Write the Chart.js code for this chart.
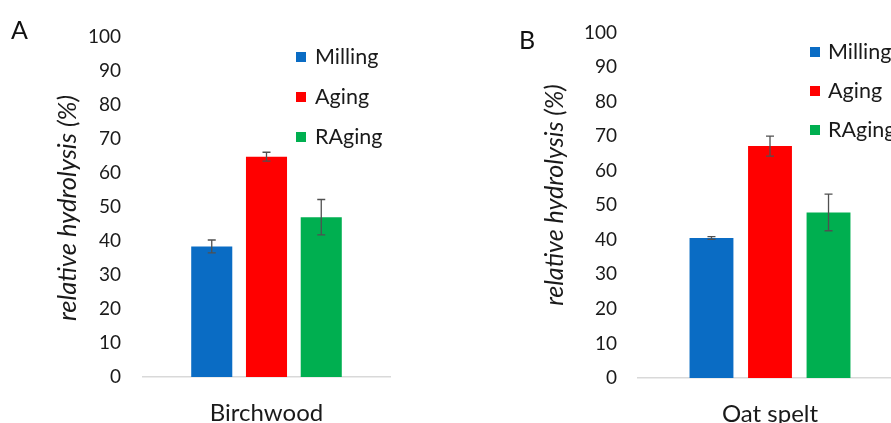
<!DOCTYPE html>
<html><head><meta charset="utf-8">
<script src="https://cdn.jsdelivr.net/npm/chart.js@4/dist/chart.umd.min.js"></script>
<style>
html,body{margin:0;padding:0;background:#fff;overflow:hidden;}
#wrap{position:relative;width:891px;height:423px;overflow:hidden;background:#fff;}
#cA{position:absolute;left:0;top:0;}
#cB{position:absolute;left:445px;top:0;}
.panel{position:absolute;font-family:Lato,sans-serif;font-size:25px;color:#111;line-height:1;}
</style></head><body>
<div id="wrap">
<canvas id="cA" width="445" height="423"></canvas>
<canvas id="cB" width="470" height="423"></canvas>
<div class="panel" style="left:11px;top:17px;">A</div>
<div class="panel" style="left:519px;top:27px;">B</div>
</div>
<script>
// ---- data ----
const seriesNames = ['Milling', 'Aging', 'RAging'];
const categoriesA = ['Birchwood'];
const categoriesB = ['Oat spelt'];
const millingA = [38.4];
const agingA = [64.8];
const ragingA = [47.0];
const millingErrA = [1.9];
const agingErrA = [1.3];
const ragingErrA = [5.2];
const millingB = [40.5];
const agingB = [67.1];
const ragingB = [47.9];
const millingErrB = [0.4];
const agingErrB = [2.9];
const ragingErrB = [5.3];
const yTickValues = [0, 10, 20, 30, 40, 50, 60, 70, 80, 90, 100];
const yTitle = 'relative hydrolysis (%)';

const colors = ['#0A6CC4', '#FF0000', '#00AF50'];
const textColor = '#1a1a1a';

const errorBarPlugin = {
  id: 'errbars',
  afterDatasetsDraw(chart) {
    const ctx = chart.ctx, y = chart.scales.y;
    chart.data.datasets.forEach((ds, i) => {
      const meta = chart.getDatasetMeta(i);
      meta.data.forEach((bar, j) => {
        const v = ds.data[j], e = ds.errors[j];
        const yt = y.getPixelForValue(v + e), yb = y.getPixelForValue(v - e);
        ctx.save();
        ctx.strokeStyle = '#505050';
        ctx.lineWidth = 1.3;
        ctx.beginPath();
        ctx.moveTo(bar.x, yt); ctx.lineTo(bar.x, yb);
        ctx.moveTo(bar.x - 4, yt); ctx.lineTo(bar.x + 4, yt);
        ctx.moveTo(bar.x - 4, yb); ctx.lineTo(bar.x + 4, yb);
        ctx.stroke();
        ctx.restore();
      });
    });
  }
};

const sideLegendPlugin = {
  id: 'sideLegend',
  afterDraw(chart, args, opts) {
    const ctx = chart.ctx;
    ctx.save();
    ctx.font = opts.font;
    ctx.textBaseline = 'middle';
    ctx.textAlign = 'left';
    chart.data.datasets.forEach((ds, i) => {
      const cy = opts.y + i * opts.gap;
      ctx.fillStyle = ds.backgroundColor;
      ctx.fillRect(opts.x, cy - opts.box / 2, opts.box, opts.box);
      ctx.fillStyle = textColor;
      ctx.fillText(ds.label, opts.x + opts.box + opts.textGap, cy);
    });
    ctx.restore();
  }
};

const yTitlePlugin = {
  id: 'yTitleText',
  afterDraw(chart, args, opts) {
    const ctx = chart.ctx;
    ctx.save();
    ctx.translate(opts.x, opts.y);
    ctx.rotate(-Math.PI / 2);
    ctx.font = opts.font;
    ctx.fillStyle = textColor;
    ctx.textAlign = 'center';
    ctx.textBaseline = 'middle';
    ctx.fillText(opts.text, 0, 0);
    ctx.restore();
  }
};

function makeChart(id, cats, vals, errs, cfg) {
  return new Chart(document.getElementById(id), {
    type: 'bar',
    data: {
      labels: cats,
      datasets: seriesNames.map((n, i) => ({
        label: n, data: vals[i], errors: errs[i],
        backgroundColor: colors[i], borderWidth: 0,
        categoryPercentage: 0.665, barPercentage: 0.75
      }))
    },
    plugins: [errorBarPlugin, sideLegendPlugin, yTitlePlugin],
    options: {
      responsive: false, animation: false,
      layout: { padding: cfg.padding },
      plugins: {
        legend: { display: false }, tooltip: { enabled: false },
        sideLegend: cfg.legend,
        yTitleText: cfg.title
      },
      scales: {
        x: {
          grid: { display: false, drawTicks: false },
          border: { display: true, color: '#d9d9d9', width: 1.5 },
          ticks: { color: textColor, font: { family: 'Lato', size: 24 }, padding: cfg.xPad },
          afterFit: s => { s.height = cfg.xHeight; }
        },
        y: {
          min: 0, max: 100,
          afterBuildTicks: s => { s.ticks = yTickValues.map(v => ({ value: v })); },
          grid: { display: false, drawTicks: false },
          border: { display: false },
          ticks: { color: textColor, font: { family: 'Lato', size: 19 }, padding: cfg.yPad },
          afterFit: s => { s.width = cfg.yWidth; }
        }
      }
    }
  });
}

makeChart('cA', categoriesA,
  [millingA, agingA, ragingA], [millingErrA, agingErrA, ragingErrA],
  { padding: { left: 0, top: 37, right: 55, bottom: 0 }, xHeight: 46, yWidth: 143, yPad: 22, xPad: 22,
    title: { text: yTitle, x: 68, y: 208, font: 'italic 25.5px Lato' },
    legend: { x: 296, y: 57, gap: 40, box: 10, textGap: 9, font: '21.5px Lato' } });

makeChart('cB', categoriesB,
  [millingB, agingB, ragingB], [millingErrB, agingErrB, ragingErrB],
  { padding: { left: 0, top: 32, right: 13, bottom: 0 }, xHeight: 45, yWidth: 193, yPad: 21, xPad: 22,
    title: { text: yTitle, x: 110, y: 195, font: 'italic 25px Lato' },
    legend: { x: 365, y: 52, gap: 39, box: 10, textGap: 8, font: '21.5px Lato' } });
</script>
</body></html>
